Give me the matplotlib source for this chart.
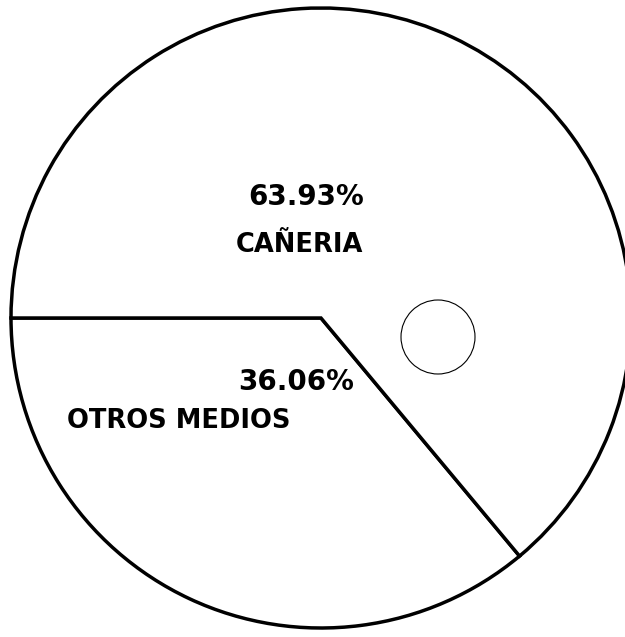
import matplotlib
matplotlib.use('agg')
import matplotlib.pyplot as plt
from matplotlib.patches import Circle

categorias = ['OTROS MEDIOS', 'CAÑERIA']
porcentajes = [36.06, 63.93]
etiquetas_pct = ['36.06%', '63.93%']

W, H = 625, 637
fig = plt.figure(figsize=(W / 100, H / 100), dpi=100)
ax = fig.add_axes([0, 0, 1, 1])

# centro y radio en pixeles (y hacia arriba)
cx, cy, r = 321, H - 318, 310

ax.pie(porcentajes, startangle=180, counterclock=True, center=(cx, cy), radius=r,
       colors=['white', 'white'],
       wedgeprops=dict(edgecolor='black', linewidth=2.5))

# circulo pequeño del dibujo original
ax.add_patch(Circle((438, H - 337), 37, fill=False, edgecolor='black', linewidth=0.8))

fuente = dict(fontweight='bold', color='black', ha='center', va='center')
ax.text(306, H - 197, etiquetas_pct[1], fontsize=20, **fuente)
ax.text(299, H - 245, categorias[1], fontsize=18.5, **fuente)
ax.text(296, H - 382, etiquetas_pct[0], fontsize=20, **fuente)
ax.text(179, H - 421, categorias[0], fontsize=18.5, **fuente)

ax.set_xlim(0, W)
ax.set_ylim(0, H)
ax.set_aspect('equal')
ax.axis('off')

plt.savefig('out.png', dpi=100, facecolor='white')
plt.close('all')
